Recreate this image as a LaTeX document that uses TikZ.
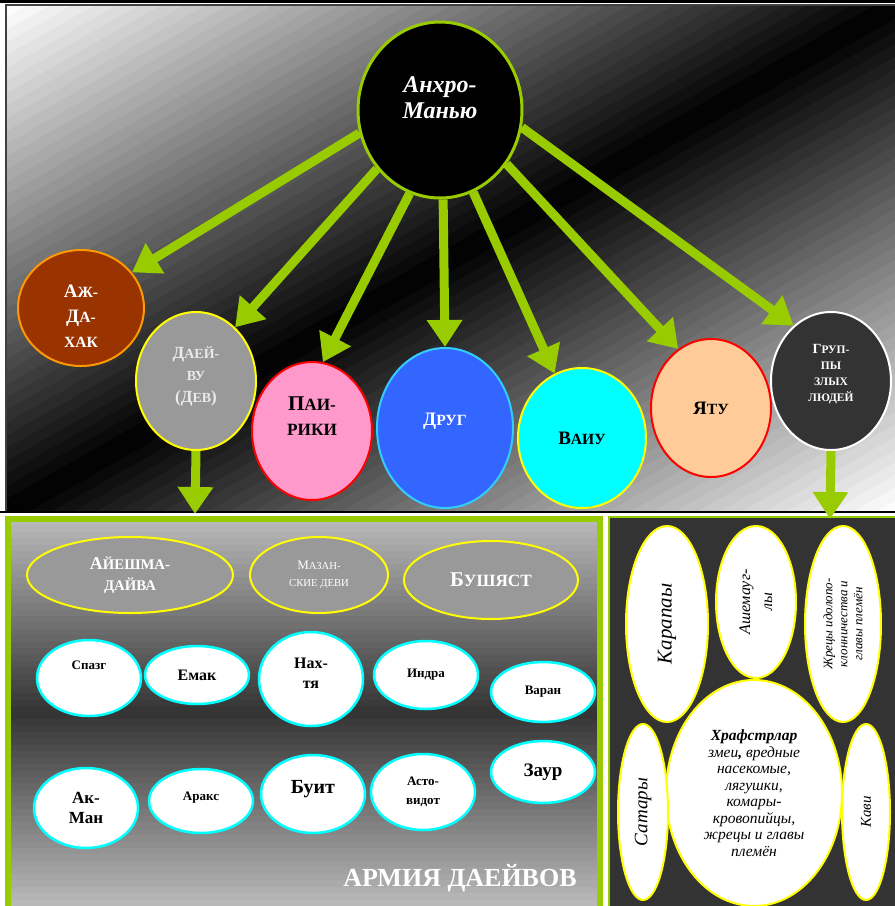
\documentclass[tikz,border=0pt]{standalone}
\usepackage{fontspec}
\setmainfont{Liberation Serif}
\usepackage{graphicx}
\usetikzlibrary{arrows.meta,shapes.geometric}
\definecolor{leaf}{HTML}{99CC00}
\definecolor{brick}{HTML}{993300}
\definecolor{amber}{HTML}{FF9900}
\definecolor{rose}{HTML}{FF99CC}
\definecolor{royal}{HTML}{3366FF}
\definecolor{sky}{HTML}{33CCFF}
\definecolor{aqua}{HTML}{00FFFF}
\definecolor{lemon}{HTML}{FFFF00}
\definecolor{scarlet}{HTML}{FF0000}
\definecolor{peach}{HTML}{FFCC99}
\definecolor{coal}{HTML}{333333}
\definecolor{ash}{HTML}{999999}
\newcommand{\smc}[1]{\scalebox{0.82}{#1}}
\newcommand{\fs}[1]{\fontsize{#1}{1.2\dimexpr#1pt\relax}\selectfont}
\newcommand{\nudge}[2]{\raisebox{#1}[0pt][0pt]{\begin{tabular}{@{}c@{}}#2\end{tabular}}}
\tikzset{
  blob/.style  = {ellipse, inner sep=0pt, line width=2pt, align=center, font=\bfseries},
  band/.style  = {ellipse, inner sep=0pt, draw=lemon, line width=2pt, fill=ash,
                  text=white, align=center},
  devb/.style  = {ellipse, inner sep=0pt, draw=aqua, line width=2.5pt, fill=white,
                  minimum width=104pt, align=center},
  egg/.style   = {ellipse, inner sep=0pt, draw=lemon, line width=2pt, fill=white,
                  align=center},
  arr/.style   = {leaf, line width=9pt, -{Triangle[length=27pt,width=34pt]}},
}

\begin{document}
\begin{tikzpicture}[x=1pt,y=-1pt]
  \useasboundingbox (0,0) rectangle (895,906);
  \begin{scope}
    \clip (6,5) rectangle (897,512);
    \foreach \i in {0,...,79} {
      \pgfmathsetmacro\tone{100*(1-abs(1-(\i+0.5)/40))}
      \pgfmathsetmacro\ta{\i/40}
      \pgfmathsetmacro\tb{(\i+1.08)/40}
      \fill[black!\tone] ({6+\ta*891},5) -- ({6+\tb*891},5) -- (6,{5+\tb*507}) -- (6,{5+\ta*507}) -- cycle;
    }
  \end{scope}
  \draw[black!75, line width=2pt] (6,5) rectangle (899,512);
  \draw[line width=3pt] (0,1.5) -- (895,1.5);
  \draw[line width=2pt] (0,512) -- (895,512);
  \foreach \i in {0,...,59} {
    \pgfmathsetmacro\tone{27+53*(1-abs(1-(\i+0.5)/30))}
    \fill[black!\tone] (8,{519+\i*6.45}) rectangle (600,{519+(\i+1.1)*6.45});
  }
  \draw[leaf, line width=6pt] (8,519) rectangle (600,912);
  \fill[coal] (609,517) rectangle (897,908);
  \draw[leaf, line width=2pt] (609,517) rectangle (899,912);

  \node[blob, draw=leaf, line width=3pt, fill=black, text=white, minimum width=164pt,
    minimum height=176pt, font=\bfseries\itshape\fontsize{24}{26}\selectfont] (anhro) at (440,110)
    {\nudge{3pt}{Анхро-\\Манью}};
  \node[blob, draw=amber, fill=brick, text=white, minimum width=126pt, minimum height=116pt,
    font=\bfseries\fontsize{19}{25}\selectfont] (azh) at (81,308)
    {\nudge{-14pt}{А\smc{Ж-}\\Д\smc{А-}\\\smc{ХАК}}};
  \node[blob, draw=lemon, fill=ash, text=white!92!black, minimum width=120pt,
    minimum height=138pt, font=\bfseries\fontsize{17}{22}\selectfont] (daev) at (196,381)
    {\nudge{1pt}{Д\smc{АЕЙ-}\\\smc{ВУ}\\(Д\smc{ЕВ})}};
  \node[blob, draw=scarlet, fill=rose, minimum width=120pt, minimum height=138pt,
    font=\bfseries\fontsize{21}{25}\selectfont] (pairiki) at (312,431)
    {\nudge{8pt}{П\smc{АИ-}\\\smc{РИКИ}}};
  \node[blob, draw=sky, fill=royal, text=white, minimum width=136pt, minimum height=160pt,
    text depth=18pt, font=\bfseries\fs{19}] (drug) at (445,428) {Д\smc{РУГ}};
  \node[blob, draw=lemon, fill=aqua, minimum width=128pt, minimum height=140pt,
    font=\bfseries\fs{19}] (vaiu) at (582,438) {В\smc{АИУ}};
  \node[blob, draw=scarlet, fill=peach, minimum width=120pt, minimum height=138pt,
    font=\bfseries\fs{19}] (yatu) at (711,408) {Я\smc{ТУ}};
  \node[blob, draw=white, fill=coal, text=white, minimum width=120pt, minimum height=138pt,
    font=\bfseries\fontsize{14}{16}\selectfont] (gruppy) at (831,381)
    {\nudge{3.5pt}{Г\smc{РУП-}\\\smc{ПЫ}\\\smc{ЗЛЫХ}\\\smc{ЛЮДЕЙ}}};

  \coordinate (armytop) at (195,514);
  \coordinate (evilbot) at (830,519);
  \draw[arr] (anhro.196) -- (azh.35);
  \draw[arr] (anhro.223) -- (daev.54);
  \draw[arr] (anhro.250) -- (pairiki.81);
  \draw[arr] (anhro.272) -- (drug.north);
  \draw[arr] (anhro.292) -- (vaiu.113);
  \draw[arr] (anhro.321) -- (yatu.119);
  \draw[arr] (anhro.348) -- (gruppy.124);
  \draw[arr] (daev.south) -- (armytop);
  \draw[arr] (gruppy.south) -- (evilbot);

  \node[band, minimum width=206pt, minimum height=76pt, font=\bfseries\fontsize{18}{21}\selectfont]
    (aeshma) at (130,575) {А\smc{ЙЕШМА-}\\\smc{ДАЙВА}};
  \node[band, minimum width=138pt, minimum height=76pt, font=\fontsize{13}{17}\selectfont]
    (mazan) at (319,575) {М\smc{АЗАН-}\\\smc{СКИЕ ДЕВИ}};
  \node[band, minimum width=174pt, minimum height=78pt, font=\bfseries\fs{21}]
    (bush) at (491,580) {Б\smc{УШЯСТ}};

  \node[devb, minimum height=76pt, text depth=26pt, font=\bfseries\fs{13}] (spazg) at (89,678) {Спазг};
  \node[devb, minimum height=58pt, font=\bfseries\fs{16}] (emak) at (197,675) {Емак};
  \node[devb, minimum height=94pt, font=\bfseries\fontsize{16}{20}\selectfont] (nakh) at (311,679)
    {\nudge{0pt}{Нах-\\тя}};
  \node[devb, minimum height=68pt, font=\bfseries\fs{13}] (indra) at (426,675) {Индра};
  \node[devb, minimum height=60pt, font=\bfseries\fs{13}] (varan) at (543,692) {Варан};
  \node[devb, minimum height=80pt, font=\bfseries\fontsize{17}{20}\selectfont] (akman) at (86,808) {Ак-\\Ман};
  \node[devb, minimum height=64pt, text depth=10pt, font=\bfseries\fs{13}] (araks) at (201,801) {Аракс};
  \node[devb, minimum height=78pt, text depth=14pt, font=\bfseries\fs{20}] (buit) at (313,794) {Буит};
  \node[devb, minimum height=76pt, font=\bfseries\fontsize{13}{19}\selectfont] (asto) at (423,792) {Асто-\\видот};
  \node[devb, minimum height=62pt, font=\bfseries\fs{19}] (zaur) at (543,772) {Заур};
  \node[text=white, font=\bfseries\fs{26}] (army) at (460,878) {АРМИЯ ДАЕЙВОВ};

  \node[egg, rotate=90, minimum width=196pt, minimum height=82pt, font=\itshape\fs{21}]
    (karapan) at (667,624) {Карапаы};
  \node[egg, rotate=90, minimum width=152pt, minimum height=80pt, font=\itshape\fontsize{16}{22}\selectfont]
    (ashem) at (756,602) {Ашемауг-\\лы};
  \node[egg, rotate=90, minimum width=196pt, minimum height=76pt, font=\itshape\fontsize{13}{15}\selectfont]
    (zhrecy) at (843,624) {Жрецы идолопо-\\клонничества и\\главы племён};
  \node[egg, minimum width=176pt, minimum height=226pt, font=\itshape\fontsize{15.5}{16.5}\selectfont]
    (khraf) at (754,793) {\textbf{Храфстрлар}\\змеи\textbf{,} вредные\\насекомые,\\лягушки,\\комары-\\кровопийцы,\\жрецы и главы\\племён};
  \node[egg, rotate=90, minimum width=176pt, minimum height=50pt, font=\itshape\fs{19}]
    (satary) at (643,812) {Сатары};
  \node[egg, rotate=90, minimum width=176pt, minimum height=48pt, font=\itshape\fs{15}]
    (kavi) at (866,812) {Кави};
\end{tikzpicture}
\end{document}
